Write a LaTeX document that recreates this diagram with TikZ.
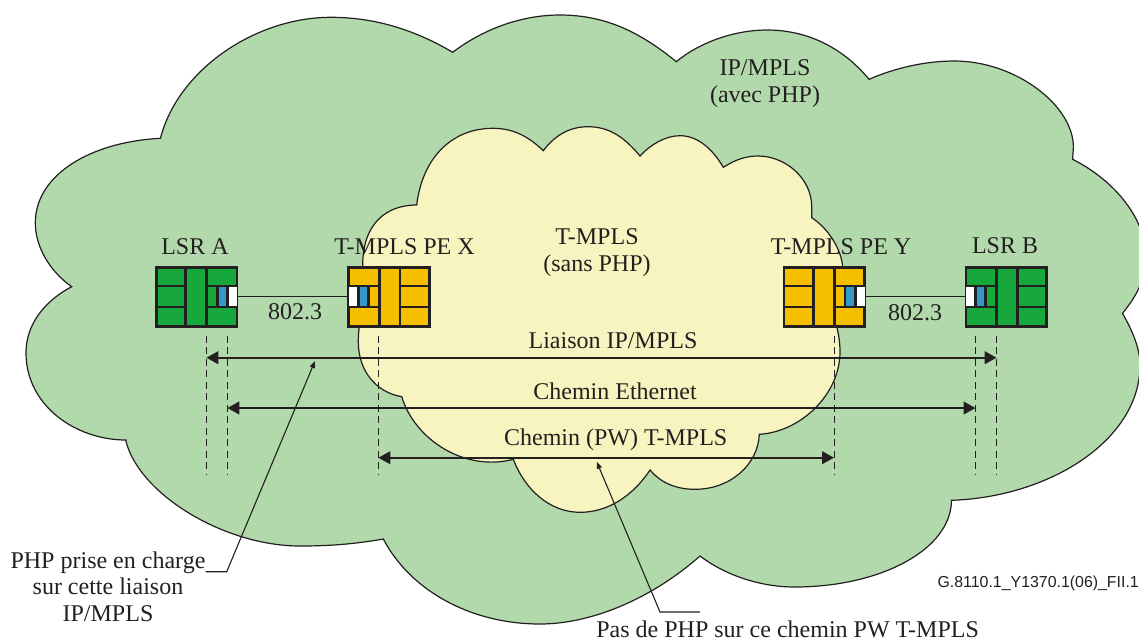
\documentclass[tikz,border=0pt]{standalone}
\usepackage{fontspec}
\setmainfont{Liberation Serif}
\setsansfont{Liberation Sans}
\usepackage{tikz}
\usetikzlibrary{%
	calc,%
	positioning,%
	arrows.meta
}
\definecolor{ip-green}{HTML}{B1D9AC}
\definecolor{tmpls-yellow}{HTML}{F8F4C0}
\definecolor{lsr-green}{HTML}{16A83C}
\definecolor{pe-yellow}{HTML}{F5BE00}
\definecolor{port-blue}{HTML}{3399C8}
\definecolor{ink}{HTML}{231F20}

\tikzset{
	cloudline/.style={draw=ink,line width=1.2pt,line join=miter},
	devicebox/.style={draw=ink,line width=2.7pt,minimum width=80.8pt,minimum height=59.2pt,inner sep=0pt},
	devline/.style={ink,line width=2.7pt},
	lbl/.style={text=ink,font=\fontsize{24}{26.5}\selectfont,align=center,inner sep=0pt},
	guide/.style={ink,line width=1pt,dash pattern=on 7pt off 4.5pt},
	pathline/.style={ink,line width=2.4pt,{Triangle[length=12pt,width=12.5pt]}-{Triangle[length=12pt,width=12.5pt]}},
	leaderline/.style={ink,line width=1.1pt,-{Triangle[length=7pt,width=5pt]}}
}

% Inside of a device, xscale 1 has the ports on the right, -1 on the left
\newcommand{\devinside}[2]{
	\begin{scope}[shift={(#1.center)},xscale=#2]
		\draw[devline] (-10.9,-30.8) -- (-10.9,30.8);
		\draw[devline] (9.9,-30.8) -- (9.9,30.8);
		\draw[devline] (-41.6,-10.7) -- (-10.9,-10.7);
		\draw[devline] (-41.6,10.2) -- (-10.9,10.2);
		\draw[devline] (9.9,-10.7) -- (41.6,-10.7);
		\draw[devline] (9.9,10.2) -- (41.6,10.2);
		\fill[port-blue] (21.5,-10) rectangle (30,9.5);
		\fill[white] (31.8,-10) rectangle (40.4,9.5);
		\draw[devline] (20.6,-10.7) -- (20.6,10.2);
		\draw[devline] (31,-10.7) -- (31,10.2);
	\end{scope}
}

\begin{document}
\begin{tikzpicture}[x=1pt,y=-1pt]
	\clip (0,0) rectangle (1139,641);
	
	% Outer cloud
	\draw[cloudline,fill=ip-green] (71.7,286.7)
		.. controls (48,270) and (35.3,245) .. (35.3,223)
		.. controls (35.3,175) and (90,142) .. (160.4,138.3)
		.. controls (178,70) and (255,17.3) .. (331,17.3)
		.. controls (375,17.3) and (415,30) .. (452.7,52.3)
		.. controls (482,30) and (520,15) .. (560,15)
		.. controls (605,15) and (640,32) .. (676.3,61.7)
		.. controls (700,42) and (735,30) .. (767,30)
		.. controls (810,30) and (845,50) .. (869,79.3)
		.. controls (895,68) and (925,61) .. (954.5,61)
		.. controls (1015,61) and (1073,105) .. (1073.4,146.7)
		-- (1072.6,159.3)
		.. controls (1110,178) and (1146,215) .. (1146,258)
		.. controls (1146,280) and (1135,298) .. (1122.5,313.3)
		.. controls (1132,330) and (1140,348) .. (1140,365)
		.. controls (1140,440) and (1050,497) .. (951.5,500.3)
		.. controls (951,550) and (880,587) .. (794.5,587)
		.. controls (760,587) and (725,575) .. (700,556)
		.. controls (650,600) and (590,624) .. (540,624)
		.. controls (470,624) and (410,590) .. (383.3,539)
		.. controls (355,544) and (330,546) .. (300,546)
		.. controls (225,546) and (140,495) .. (126,441.5)
		-- (126,440)
		.. controls (75,440) and (26,405) .. (26,353)
		.. controls (26,320) and (50,298) .. (71.7,286.7)
		-- cycle;
	
	% Inner cloud
	\draw[cloudline,fill=tmpls-yellow] (370,296)
		.. controls (365,285) and (362.7,275) .. (362.7,265)
		.. controls (362.7,225) and (385,205) .. (416.7,205)
		.. controls (422,160) and (450,128.3) .. (493,128.3)
		.. controls (515,128.3) and (530,138) .. (543.3,150.7)
		.. controls (555,135) and (570,126.7) .. (588,126.7)
		.. controls (610,126.7) and (625,138) .. (640,156)
		.. controls (650,145) and (665,135.7) .. (680,135.7)
		.. controls (697,135.7) and (712,148) .. (723.3,167.3)
		.. controls (735,160) and (745,156) .. (758,156)
		.. controls (785,156) and (811.7,178) .. (811.7,206.7)
		-- (811.7,217.7)
		.. controls (828,228) and (842,250) .. (842.7,268)
		.. controls (843,280) and (836,290) .. (826,297)
		.. controls (832,310) and (840,330) .. (840,351.7)
		.. controls (840,395) and (800,432) .. (759.3,434.3)
		.. controls (758,465) and (730,489.3) .. (695,489.3)
		.. controls (675,489.3) and (660,482) .. (650,470)
		.. controls (632,497) and (607,512.3) .. (580,512.3)
		.. controls (550,512.3) and (525,490) .. (513.3,459.3)
		.. controls (465,472) and (415,440) .. (401.7,396.7)
		.. controls (375,392) and (358.3,370) .. (358.3,341.7)
		.. controls (358.3,322) and (363,305) .. (370,296)
		-- cycle;
	
	% Devices
	\node[devicebox,fill=lsr-green] (lsrA) at (196.7,296.8) {};
	\node[devicebox,fill=pe-yellow] (peX) at (389.2,296.8) {};
	\node[devicebox,fill=pe-yellow] (peY) at (824.4,296.8) {};
	\node[devicebox,fill=lsr-green] (lsrB) at (1006.3,296.8) {};
	\devinside{lsrA}{1}
	\devinside{peX}{-1}
	\devinside{peY}{1}
	\devinside{lsrB}{-1}
	
	\node[lbl] (lsrAlbl) at (195,247) {LSR A};
	\node[lbl] (peXlbl) at (404.5,247) {T-MPLS PE X};
	\node[lbl] (peYlbl) at (841,247) {T-MPLS PE Y};
	\node[lbl] (lsrBlbl) at (1005,246) {LSR B};
	
	% Links
	\draw[ink,line width=1.1pt] (lsrA.east) -- (peX.west);
	\draw[ink,line width=1.1pt] (peY.east) -- (lsrB.west);
	\node[lbl] (linkA) at (295,312) {802.3};
	\node[lbl] (linkB) at (915,313) {802.3};
	
	% Cloud names
	\node[lbl] (ipname) at (765,83.5) {IP/MPLS\\(avec PHP)};
	\node[lbl] (tmname) at (597,252.5) {T-MPLS\\(sans PHP)};
	
	% Ends of dashed lines and arrows
	\coordinate (a1) at (206.3,335.5);
	\coordinate (a2) at (227.3,335.5);
	\coordinate (a3) at (378.3,335.5);
	\coordinate (b3) at (834,335.5);
	\coordinate (b2) at (975.5,335.5);
	\coordinate (b1) at (996.6,335.5);
	\foreach \c in {a1,a2,a3,b3,b2,b1} {
		\draw[guide] (\c) -- (\c |- 0,475);
	}
	\draw[pathline] (a1 |- 0,357.7) -- (b1 |- 0,357.7);
	\draw[pathline] (a2 |- 0,408) -- (b2 |- 0,408);
	\draw[pathline] (a3 |- 0,457.7) -- (b3 |- 0,457.7);
	\node[lbl] (liaison) at (613,341) {Liaison IP/MPLS};
	\node[lbl] (ethernet) at (615,391) {Chemin Ethernet};
	\node[lbl] (pwpath) at (615.7,440) {Chemin (PW) T-MPLS};
	
	% Notes
	\node[lbl] (noteA) at (108,586.7) {PHP prise en charge\\sur cette liaison\\IP/MPLS};
	\node[lbl] (noteB) at (787.6,629.5) {Pas de PHP sur ce chemin PW T-MPLS};
	\coordinate (tipA) at (315,361);
	\coordinate (tipB) at (596.7,461.7);
	\draw[leaderline] (noteA.east |- 0,571.7) -- (226.7,571.7) -- (tipA);
	\draw[leaderline] (700,612) -- (660,612) -- (tipB);
	
	\node[text=ink,font=\sffamily\fontsize{15.9}{18}\selectfont,inner sep=0pt,anchor=east] (figref) at (1139,583.5) {G.8110.1\_Y1370.1(06)\_FII.1};
\end{tikzpicture}
\end{document}
